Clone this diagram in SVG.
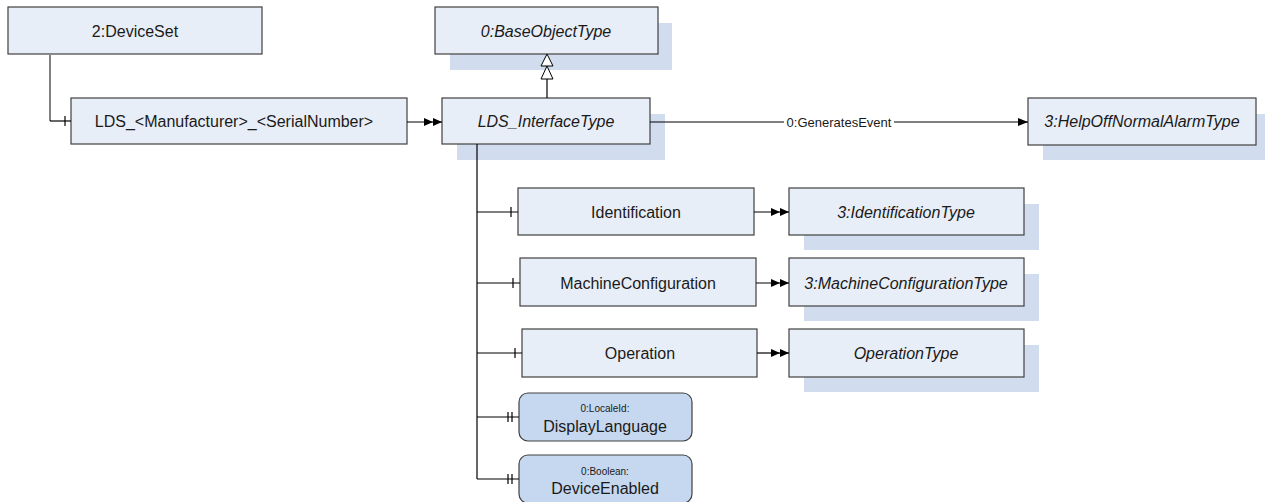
<svg xmlns="http://www.w3.org/2000/svg" width="1265" height="502" viewBox="0 0 1265 502">
<style>
.box{fill:#E8EEF7;stroke:#404040;stroke-width:1.2}
.shadow{fill:#D1DCEE;stroke:none}
.var{fill:#C6D8EF;stroke:#404040;stroke-width:1.2}
.t{font-family:"Liberation Sans",Arial,sans-serif;font-size:16px;fill:#1a1a1a;text-anchor:middle;dominant-baseline:central}
.ti{font-style:italic}
.s{font-family:"Liberation Sans",Arial,sans-serif;font-size:10px;fill:#1a1a1a;text-anchor:middle;dominant-baseline:central}
.lbl{font-family:"Liberation Sans",Arial,sans-serif;font-size:13px;fill:#1a1a1a;text-anchor:middle;dominant-baseline:central}
.ln{stroke:#000;stroke-width:1.2;fill:none}
.lg{stroke:#808080;stroke-width:2;fill:none}
</style>
<defs>
<marker id="dbl" viewBox="0 0 18 8" refX="18" refY="4" markerWidth="18" markerHeight="8" markerUnits="userSpaceOnUse" orient="auto">
<path d="M0,0 L9,4 L0,8 Z M9,0 L18,4 L9,8 Z" fill="#000"/>
</marker>
<marker id="sgl" viewBox="0 0 10 8" refX="10" refY="4" markerWidth="10" markerHeight="8" markerUnits="userSpaceOnUse" orient="auto">
<path d="M0,0 L10,4 L0,8 Z" fill="#000"/>
</marker>
</defs>

<g id="deviceset">
<rect class="box" x="8" y="7" width="254" height="47"/>
<text class="t" x="135" y="31">2:DeviceSet</text>
</g>
<g id="lds">
<rect class="box" x="71" y="98" width="336" height="46"/>
<text class="t" x="234" y="121">LDS_&lt;Manufacturer&gt;_&lt;SerialNumber&gt;</text>
</g>
<g id="baseobjecttype">
<rect class="shadow" x="450" y="23" width="222" height="47"/>
<rect class="box" x="435" y="7" width="223" height="47"/>
<text class="t ti" x="546" y="31">0:BaseObjectType</text>
</g>
<g id="ldsinterfacetype">
<rect class="shadow" x="457" y="114" width="208" height="46"/>
<rect class="box" x="442" y="98" width="208" height="46"/>
<text class="t ti" x="546" y="121">LDS_InterfaceType</text>
</g>
<g id="helpoffnormal">
<rect class="shadow" x="1043" y="114" width="228" height="46"/>
<rect class="box" x="1028" y="98" width="228" height="47"/>
<text class="t ti" x="1142" y="121">3:HelpOffNormalAlarmType</text>
</g>
<g id="identification">
<rect class="box" x="518" y="188" width="236" height="47"/>
<text class="t" x="636" y="212">Identification</text>
</g>
<g id="identificationtype">
<rect class="shadow" x="804" y="204" width="235" height="46"/>
<rect class="box" x="789" y="188" width="235" height="47"/>
<text class="t ti" x="906" y="212">3:IdentificationType</text>
</g>
<g id="machineconfiguration">
<rect class="box" x="520" y="258" width="236" height="48"/>
<text class="t" x="638" y="283">MachineConfiguration</text>
</g>
<g id="machineconfigurationtype">
<rect class="shadow" x="804" y="274" width="235" height="47"/>
<rect class="box" x="789" y="258" width="235" height="48"/>
<text class="t ti" x="906" y="283">3:MachineConfigurationType</text>
</g>
<g id="operation">
<rect class="box" x="522" y="329" width="235" height="48"/>
<text class="t" x="640" y="353">Operation</text>
</g>
<g id="operationtype">
<rect class="shadow" x="804" y="345" width="235" height="47"/>
<rect class="box" x="789" y="329" width="235" height="48"/>
<text class="t ti" x="906" y="353">OperationType</text>
</g>
<g id="displaylanguage">
<rect class="var" x="519" y="393" width="173" height="48" rx="9"/>
<text class="s" x="605" y="408">0:LocaleId:</text>
<text class="t" x="605" y="426">DisplayLanguage</text>
</g>
<g id="deviceenabled">
<rect class="var" x="519" y="455" width="173" height="48" rx="9"/>
<text class="s" x="605" y="471">0:Boolean:</text>
<text class="t" x="605" y="488">DeviceEnabled</text>
</g>

<g id="connectors">
<path class="lg" d="M50,55 V121"/>
<path class="ln" d="M50,121 H71"/>
<path class="ln" d="M65,116 V126"/>
<path class="ln" d="M407,122 H442" marker-end="url(#dbl)"/>
<path class="ln" d="M547,98 V79"/>
<path d="M547,66 L541,79 L553,79 Z" fill="#fff" stroke="#000" stroke-width="1"/>
<path d="M547,54 L541,66 L553,66 Z" fill="#fff" stroke="#000" stroke-width="1"/>
<path class="ln" d="M650,122 H1028" marker-end="url(#sgl)"/>
<rect x="784" y="114" width="110" height="16" fill="#fff"/>
<text class="lbl" x="839" y="122">0:GeneratesEvent</text>
<path class="ln" d="M477,144 V479"/>
<path class="ln" d="M477,212 H518 M511,207 V217"/>
<path class="ln" d="M477,283 H520 M513,278 V288"/>
<path class="ln" d="M477,353 H522 M515,348 V358"/>
<path class="ln" d="M477,417 H519 M508,412 V422 M512,412 V422"/>
<path class="ln" d="M477,479 H519 M508,474 V484 M512,474 V484"/>
<path class="ln" d="M754,212 H789" marker-end="url(#dbl)"/>
<path class="ln" d="M756,283 H789" marker-end="url(#dbl)"/>
<path class="ln" d="M757,353 H789" marker-end="url(#dbl)"/>
</g>
</svg>
